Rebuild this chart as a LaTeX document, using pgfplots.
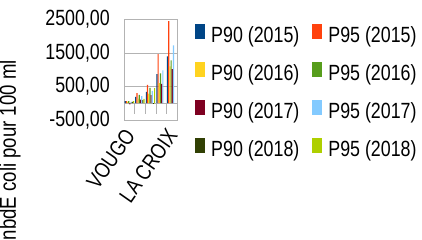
\documentclass[border=0pt]{standalone}
\usepackage{pgfplots}
\pgfplotsset{compat=1.18}
\usepackage{fontspec}
\setmainfont{Liberation Sans}[FakeStretch=0.81]
\definecolor{c1}{HTML}{004586}
\definecolor{c2}{HTML}{FF420E}
\definecolor{c3}{HTML}{FFD320}
\definecolor{c4}{HTML}{579D1C}
\definecolor{c5}{HTML}{7E0021}
\definecolor{c6}{HTML}{83CAFF}
\definecolor{c7}{HTML}{314004}
\definecolor{c8}{HTML}{AECF00}
\definecolor{gridc}{HTML}{B3B3B3}
\newcommand\ff{\fontsize{22}{26}\selectfont}
\begin{document}
\begin{tikzpicture}[x=1pt,y=1pt]
\useasboundingbox (0,0) rectangle (422,240);
\clip (0,0) rectangle (422,240);
\begin{axis}[
  at={(124pt,120pt)}, anchor=south west,
  scale only axis, width=53pt, height=100.5pt,
  xmin=-0.5, xmax=4.5, ymin=-500, ymax=2500,
  ybar=0pt, bar width=1.18pt,
  xtick={0,1,2,3,4}, xticklabels={VOUGO,,,,LA CROIX},
  ytick={-500,500,1500,2500},
  major tick length=0pt,
  ymajorgrids, grid style={gridc, line width=0.6pt},
  axis line style={gridc, line width=0.6pt},
  /pgf/number format/assume math mode=true,
  yticklabel style={font=\ff, inner sep=0pt, xshift=-14pt,
    /pgf/number format/.cd, fixed, fixed zerofill, precision=2, use comma, 1000 sep={}},
  xticklabel style={font=\ff, rotate=55, anchor=north east, inner sep=0pt, xshift=-9pt, yshift=1pt},
  ylabel={nbdE coli pour 100 ml},
  ylabel style={font=\fontsize{23}{26}\selectfont, at={(axis description cs:-2.15,-0.30)}, anchor=center},
  legend columns=2,
  legend cell align=left,
  legend style={at={(axis description cs:1.34,0.96)}, anchor=north west, draw=none, fill=none,
    inner sep=0pt, font=\ff, row sep=14pt,
    nodes={inner sep=0pt, text height=15pt, text depth=5pt},
    /tikz/every odd column/.style={column sep=6pt},
    /tikz/every even column/.style={column sep=13pt}},
  legend image code/.code={\fill[#1] (0pt,-1pt) rectangle (10pt,14pt);},
]
\draw[gridc, line width=0.6pt] (axis cs:-0.5,0) -- (axis cs:4.5,0);
\draw[gridc, line width=0.6pt] (axis cs:0.5,0) -- (axis cs:0.5,-330);
\draw[gridc, line width=0.6pt] (axis cs:1.5,0) -- (axis cs:1.5,-330);
\draw[gridc, line width=0.6pt] (axis cs:2.5,0) -- (axis cs:2.5,-330);
\draw[gridc, line width=0.6pt] (axis cs:3.5,0) -- (axis cs:3.5,-330);
\addplot[fill=c1, draw=none] coordinates {(0,60) (1,190) (2,340) (3,866) (4,1400)};
\addlegendentry{P90 (2015)}
\addplot[fill=c2, draw=none] coordinates {(0,60) (1,300) (2,550) (3,1463) (4,2450)};
\addlegendentry{P95 (2015)}
\addplot[fill=c3, draw=none] coordinates {(0,50) (1,140) (2,290) (3,600) (4,1100)};
\addlegendentry{P90 (2016)}
\addplot[fill=c4, draw=none] coordinates {(0,60) (1,250) (2,460) (3,895) (4,1280)};
\addlegendentry{P95 (2016)}
\addplot[fill=c5, draw=none] coordinates {(0,-30) (1,110) (2,240) (3,580) (4,1015)};
\addlegendentry{P90 (2017)}
\addplot[fill=c6, draw=none] coordinates {(0,40) (1,210) (2,370) (3,985) (4,1730)};
\addlegendentry{P95 (2017)}
\addplot[fill=c7, draw=none] coordinates {(0,40) (1,90) (2,-20)};
\addlegendentry{P90 (2018)}
\addplot[fill=c8, draw=none] coordinates {(0,60) (1,130) (2,450)};
\addlegendentry{P95 (2018)}
\end{axis}
\end{tikzpicture}
\end{document}
